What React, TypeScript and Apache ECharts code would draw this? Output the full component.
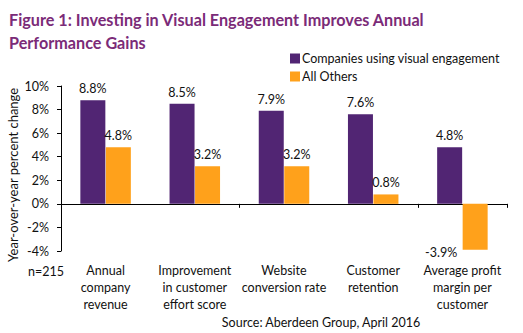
import React, { useEffect, useRef } from "react";
import * as echarts from "echarts";

const categories = [
  "Annual\ncompany\nrevenue",
  "Improvement\nin customer\neffort score",
  "Website\nconversion rate",
  "Customer\nretention",
  "Average profit\nmargin per\ncustomer",
];
const visualEngagement = [8.8, 8.5, 7.9, 7.6, 4.8];
const allOthers = [4.8, 3.2, 3.2, 0.8, -3.9];
const seriesNames = ["Companies using visual engagement", "All Others"];
const yTicks = { min: -4, max: 10, interval: 2 };

const FONT = "Lato";
const PURPLE = "#512573";
const ORANGE = "#ffa11b";

export default function App() {
  const ref = useRef<HTMLDivElement>(null);
  useEffect(() => {
    if (!ref.current) return;
    const chart = echarts.init(ref.current, null, { renderer: "svg" });
    const labelFmt = (p: any) => `${Number(p.value).toFixed(1)}%`;
    chart.setOption({
      animation: false,
      textStyle: { fontFamily: FONT },
      title: {
        text: "Figure 1: Investing in Visual Engagement Improves Annual\nPerformance Gains",
        left: 4,
        top: 3,
        textStyle: {
          fontFamily: FONT,
          fontSize: 16.2,
          fontWeight: "bold",
          color: "#7b2b78",
          lineHeight: 23,
        },
      },
      legend: {
        orient: "vertical",
        left: 285,
        top: 47,
        itemWidth: 10,
        itemHeight: 10,
        itemGap: 5,
        icon: "rect",
        textStyle: { fontFamily: FONT, fontSize: 12.5, color: "#111", padding: [0, 0, 0, -3] },
        data: seriesNames,
      },
      grid: { left: 61, right: 16, top: 86, bottom: 82, containLabel: false },
      xAxis: [
        {
          type: "category",
          data: categories,
          axisLine: { onZero: true, lineStyle: { color: "#000", width: 1 } },
          axisTick: { show: true, length: 4, lineStyle: { color: "#000" } },
          axisLabel: { show: false },
        },
        {
          type: "category",
          data: categories,
          position: "bottom",
          axisLine: { show: false, onZero: false },
          axisTick: { show: false },
          axisLabel: {
            show: true,
            margin: 11,
            fontFamily: FONT,
            fontSize: 12.5,
            lineHeight: 17,
            color: "#111",
            interval: 0,
          },
        },
      ],
      yAxis: {
        type: "value",
        min: yTicks.min,
        max: yTicks.max,
        interval: yTicks.interval,
        axisLine: { show: true, lineStyle: { color: "#000" } },
        axisTick: { show: true, length: 4, lineStyle: { color: "#000" } },
        splitLine: { show: false },
        axisLabel: {
          formatter: "{value}%",
          margin: 12,
          fontFamily: FONT,
          fontSize: 12.5,
          color: "#111",
        },
      },
      series: [
        {
          name: seriesNames[0],
          type: "bar",
          data: visualEngagement,
          barWidth: 25,
          barGap: "2%",
          itemStyle: { color: PURPLE },
          label: {
            show: true,
            position: "top",
            distance: 5,
            formatter: labelFmt,
            fontFamily: FONT,
            fontSize: 12.5,
            color: "#111",
          },
        },
        {
          name: seriesNames[1],
          type: "bar",
          data: allOthers.map((v) =>
            v < 0
              ? {
                  value: v,
                  label: { position: "bottom", offset: [-34, -9] },
                }
              : v
          ),
          barWidth: 25,
          itemStyle: { color: ORANGE },
          label: {
            show: true,
            position: "top",
            distance: 5,
            formatter: labelFmt,
            fontFamily: FONT,
            fontSize: 12.5,
            color: "#111",
          },
        },
      ],
      graphic: [
        {
          type: "text",
          x: 13,
          y: 175,
          rotation: Math.PI / 2,
          style: {
            text: "Year-over-year percent change",
            fontFamily: FONT,
            fontSize: 13,
            fill: "#111",
            align: "center",
            verticalAlign: "middle",
          },
        },
        {
          type: "text",
          x: 28,
          y: 265,
          style: { text: "n=215", fontFamily: FONT, fontSize: 12.5, fill: "#111" },
        },
        {
          type: "text",
          x: 321,
          y: 322,
          style: {
            text: "Source: Aberdeen Group, April 2016",
            fontFamily: FONT,
            fontSize: 12.5,
            fill: "#111",
            align: "center",
            verticalAlign: "middle",
          },
        },
      ],
    });
    return () => chart.dispose();
  }, []);
  return <div ref={ref} style={{ width: 523, height: 333, position: "fixed", left: 0, top: 0, background: "#fff" }} />;
}
